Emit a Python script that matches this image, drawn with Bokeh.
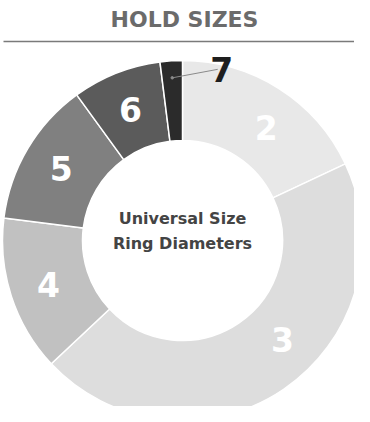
import math
from bokeh.plotting import figure
from bokeh.models import Range1d, ColumnDataSource
from bokeh.core.properties import value
from bokeh.embed import file_html
from bokeh.resources import INLINE

# ---- data ----
sizes = ["2", "3", "4", "5", "6", "7"]
shares = [18, 45, 14, 13, 8, 2]
colors = ["#e8e8e8", "#dddddd", "#c1c1c1", "#808080", "#5b5b5b", "#2b2b2b"]
label_colors = ["white", "white", "white", "white", "white", "#1e1e1e"]
title_text = "HOLD SIZES"
center_lines = ["Universal Size", "Ring Diameters"]

# ---- layout ----
W, H = 354, 406
def px(x):  # picture x -> data x
    return x
def py(y):  # picture y -> data y
    return H - y

CX, CY = px(182), py(240)
R_OUT, R_IN = 180, 100
R_LAB = 141
nudge_deg = {"2": 4, "3": -11}

total = sum(shares)
starts, ends, lx, ly = [], [], [], []
cum = 0.0
mids = []
for s, v in zip(sizes, shares):
    a0 = math.pi / 2 - 2 * math.pi * cum / total
    cum += v
    a1 = math.pi / 2 - 2 * math.pi * cum / total
    starts.append(a0)
    ends.append(a1)
    mid = (a0 + a1) / 2
    mids.append(mid)
    m = mid - math.radians(nudge_deg.get(s, 0))
    lx.append(CX + R_LAB * math.cos(m))
    ly.append(CY + R_LAB * math.sin(m))

p = figure(width=W, height=H, x_range=Range1d(0, W), y_range=Range1d(0, H),
           output_backend="svg", toolbar_location=None, min_border=0)
p.axis.visible = False
p.grid.visible = False
p.outline_line_color = None
p.background_fill_color = "white"
p.border_fill_color = "white"

src = ColumnDataSource(dict(start=starts, end=ends, color=colors))
p.annular_wedge(x=CX, y=CY, inner_radius=R_IN, outer_radius=R_OUT,
                start_angle="start", end_angle="end", direction="clock",
                fill_color="color", line_color="white", line_width=1.5, source=src)

# labels for slices except the tiny last one
inside = [i for i in range(len(sizes)) if shares[i] >= 5]
p.text(x=[lx[i] for i in inside], y=[ly[i] for i in inside],
       text=[sizes[i] for i in inside], text_color=[label_colors[i] for i in inside],
       text_font=value("DejaVu Sans"), text_font_style="bold", text_font_size="33px",
       text_align="center", text_baseline="middle")

# small slice: leader line and outside label
for i in range(len(sizes)):
    if shares[i] < 5:
        m = mids[i]
        x0 = CX + 163 * math.cos(m)
        y0 = CY + 163 * math.sin(m)
        la = m - math.radians(14)
        x1 = CX + 173 * math.cos(la)
        y1 = CY + 173 * math.sin(la)
        p.segment(x0=[x0], y0=[y0], x1=[x1 + 4], y1=[y1 + 1], line_color="#8a8a8a", line_width=1)
        p.scatter(x=[x0], y=[y0], size=2.5, color="#8a8a8a")
        p.text(x=[x1 + 8], y=[y1 + 1], text=[sizes[i]], text_color=label_colors[i],
               text_font=value("DejaVu Sans"), text_font_style="bold", text_font_size="33px",
               text_align="center", text_baseline="middle")

# center text
p.text(x=[CX, CX], y=[py(218), py(243)], text=center_lines, text_color="#444444",
       text_font=value("DejaVu Sans"), text_font_style="bold", text_font_size="16px",
       text_align="center", text_baseline="middle")

# title and rule
p.text(x=[px(184)], y=[py(19)], text=[title_text], text_color="#6b6b6b",
       text_font=value("DejaVu Sans"), text_font_style="bold", text_font_size="22px",
       text_align="center", text_baseline="middle")
p.segment(x0=[px(3)], y0=[py(41)], x1=[px(360)], y1=[py(41)],
          line_color="#7a7a7a", line_width=1.5)

open("out.html", "w").write(file_html(p, INLINE))
